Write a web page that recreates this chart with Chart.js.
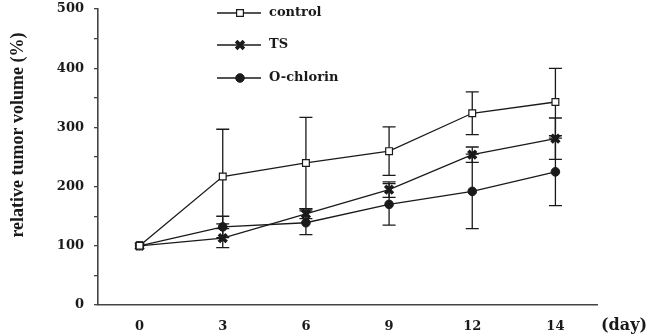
<!DOCTYPE html>
<html>
<head>
<meta charset="utf-8">
<script src="https://cdn.jsdelivr.net/npm/chart.js@4.4.1/dist/chart.umd.min.js"></script>
<style>
    html, body { margin: 0; padding: 0; background: #fff; }
    #wrap { width: 650px; height: 335px; position: relative; }
</style>
</head>
<body>
<div id="wrap"><canvas id="chart"></canvas></div>
<script>
const days = ['0', '3', '6', '9', '12', '14'];

const control = [100, 217, 240, 260, 324, 343];
const controlErr = [0, 80, 77, 41, 36, 57];

const ts = [100, 113, 154, 195, 254, 281];
const tsErr = [0, 16, 8, 13, 13, 35];

const chlorin = [100, 132, 139, 170, 192, 225];
const chlorinErr = [0, 18, 20, 35, 63, 57];

const yTicks = [0, 100, 200, 300, 400, 500];

const serif = '"DejaVu Serif", serif';
const ink = '#1a1a1a';

// error bars, drawn under the markers
const errorBars = {
    id: 'errorBars',
    beforeDatasetsDraw(chart) {
        const ctx = chart.ctx;
        const x = chart.scales.x;
        const y = chart.scales.y;
        ctx.save();
        ctx.strokeStyle = ink;
        ctx.lineWidth = 1.3;
        chart.data.datasets.forEach(ds => {
            ds.data.forEach((v, i) => {
                const e = ds.errors[i];
                if (!e) return;
                const px = x.getPixelForValue(i);
                const top = y.getPixelForValue(v + e);
                const bot = y.getPixelForValue(v - e);
                ctx.beginPath();
                ctx.moveTo(px, top);
                ctx.lineTo(px, bot);
                ctx.moveTo(px - 6.5, top);
                ctx.lineTo(px + 6.5, top);
                ctx.moveTo(px - 6.5, bot);
                ctx.lineTo(px + 6.5, bot);
                ctx.stroke();
            });
        });
        ctx.restore();
    }
};

// legend with line + marker, y title and "(day)"
const extras = {
    id: 'extras',
    afterDraw(chart) {
        const ctx = chart.ctx;
        const rows = [13, 45, 78];
        ctx.save();
        chart.data.datasets.forEach((ds, i) => {
            const yy = rows[i];
            ctx.strokeStyle = ds.borderColor;
            ctx.lineWidth = 1.3;
            ctx.beginPath();
            ctx.moveTo(217, yy);
            ctx.lineTo(261, yy);
            ctx.stroke();
            ctx.fillStyle = ds.pointBackgroundColor;
            ctx.strokeStyle = ds.pointBorderColor;
            ctx.lineWidth = ds.pointBorderWidth;
            Chart.helpers.drawPoint(ctx, {
                pointStyle: ds.pointStyle,
                radius: ds.pointRadius,
                borderWidth: ds.pointBorderWidth,
                rotation: 0
            }, 240, yy);
            ctx.fillStyle = ink;
            ctx.font = 'bold 13px ' + serif;
            ctx.textAlign = 'left';
            ctx.textBaseline = 'middle';
            ctx.fillText(ds.label, 269, yy);
        });

        ctx.font = 'bold 16px ' + serif;
        ctx.textAlign = 'left';
        ctx.textBaseline = 'middle';
        ctx.fillText('(day)', 601, 326);

        ctx.translate(18, 135);
        ctx.rotate(-Math.PI / 2);
        ctx.font = 'bold 18px "Liberation Serif", serif';
        ctx.textAlign = 'center';
        ctx.fillText('relative tumor volume (%)', 0, 0);
        ctx.restore();
    }
};

function makeDataset(label, data, errors, style, radius, border, fill) {
    return {
        label: label,
        data: data,
        errors: errors,
        borderColor: ink,
        borderWidth: 1.3,
        pointStyle: style,
        pointRadius: radius,
        pointHoverRadius: radius,
        pointBorderWidth: border,
        pointBorderColor: ink,
        pointBackgroundColor: fill,
        tension: 0,
        fill: false
    };
}

const ctx = document.getElementById('chart');

new Chart(ctx, {
    type: 'line',
    data: {
        labels: days,
        datasets: [
            makeDataset('control', control, controlErr, 'rect', 4.8, 1.2, '#fff'),
            makeDataset('TS', ts, tsErr, 'crossRot', 5.5, 3.6, ink),
            makeDataset('O-chlorin', chlorin, chlorinErr, 'circle', 4.3, 1, ink)
        ]
    },
    options: {
        responsive: true,
        maintainAspectRatio: false,
        animation: false,
        layout: {
            padding: { left: 0, right: 53, top: 4, bottom: 0 }
        },
        plugins: {
            legend: { display: false },
            tooltip: { enabled: false }
        },
        scales: {
            x: {
                type: 'category',
                offset: true,
                grid: { display: false },
                border: { display: true, color: '#444', width: 1.6 },
                ticks: {
                    color: ink,
                    font: { family: serif, size: 13, weight: 'bold' },
                    padding: 6,
                    maxRotation: 0
                },
                afterFit(scale) { scale.height = 30; }
            },
            y: {
                min: 0,
                max: 500,
                grid: {
                    drawOnChartArea: false,
                    drawTicks: true,
                    tickLength: 4,
                    color: '#444',
                    lineWidth: 1.3
                },
                border: { display: true, color: '#444', width: 1.6 },
                ticks: {
                    stepSize: 50,
                    color: ink,
                    padding: 10,
                    font: { family: serif, size: 13, weight: 'bold' },
                    callback: v => yTicks.includes(v) ? String(v) : ''
                },
                afterFit(scale) {
                    scale.width = 98;
                    scale.paddingTop = 0;
                    scale.paddingBottom = 0;
                }
            }
        }
    },
    plugins: [errorBars, extras]
});
</script>
</body>
</html>
